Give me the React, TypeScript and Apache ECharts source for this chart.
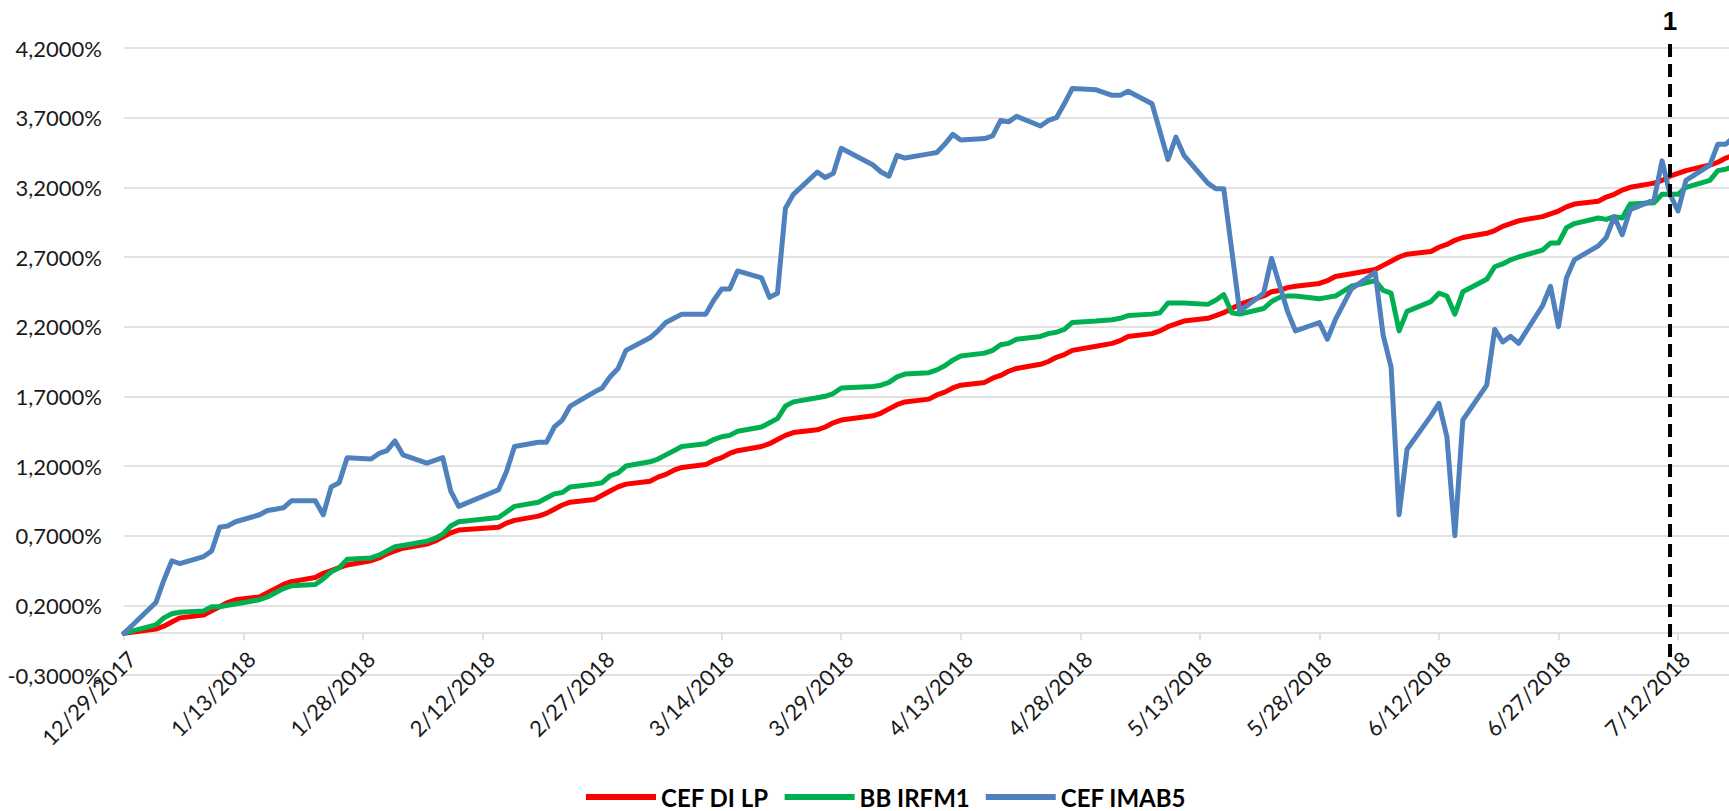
import React, { useEffect, useRef } from 'react';
import * as echarts from 'echarts';

// Business days shown in the chart
const dates = [
  '12/29/2017', '1/2/2018', '1/3/2018', '1/4/2018', '1/5/2018', '1/8/2018', '1/9/2018', '1/10/2018', '1/11/2018', '1/12/2018',
  '1/15/2018', '1/16/2018', '1/17/2018', '1/18/2018', '1/19/2018', '1/22/2018', '1/23/2018', '1/24/2018', '1/25/2018', '1/26/2018',
  '1/29/2018', '1/30/2018', '1/31/2018',
  '2/1/2018', '2/2/2018', '2/5/2018', '2/6/2018', '2/7/2018', '2/8/2018', '2/9/2018', '2/14/2018', '2/15/2018', '2/16/2018',
  '2/19/2018', '2/20/2018', '2/21/2018', '2/22/2018', '2/23/2018', '2/26/2018', '2/27/2018', '2/28/2018',
  '3/1/2018', '3/2/2018', '3/5/2018', '3/6/2018', '3/7/2018', '3/8/2018', '3/9/2018', '3/12/2018', '3/13/2018', '3/14/2018',
  '3/15/2018', '3/16/2018', '3/19/2018', '3/20/2018', '3/21/2018', '3/22/2018', '3/23/2018', '3/26/2018', '3/27/2018', '3/28/2018', '3/29/2018',
  '4/2/2018', '4/3/2018', '4/4/2018', '4/5/2018', '4/6/2018', '4/9/2018', '4/10/2018', '4/11/2018', '4/12/2018', '4/13/2018',
  '4/16/2018', '4/17/2018', '4/18/2018', '4/19/2018', '4/20/2018', '4/23/2018', '4/24/2018', '4/25/2018', '4/26/2018', '4/27/2018', '4/30/2018',
  '5/2/2018', '5/3/2018', '5/4/2018', '5/7/2018', '5/8/2018', '5/9/2018', '5/10/2018', '5/11/2018', '5/14/2018', '5/15/2018',
  '5/16/2018', '5/17/2018', '5/18/2018', '5/21/2018', '5/22/2018', '5/23/2018', '5/24/2018', '5/25/2018', '5/28/2018', '5/29/2018', '5/30/2018',
  '6/1/2018', '6/4/2018', '6/5/2018', '6/6/2018', '6/7/2018', '6/8/2018', '6/11/2018', '6/12/2018', '6/13/2018', '6/14/2018',
  '6/15/2018', '6/18/2018', '6/19/2018', '6/20/2018', '6/21/2018', '6/22/2018', '6/25/2018', '6/26/2018', '6/27/2018', '6/28/2018', '6/29/2018',
  '7/2/2018', '7/3/2018', '7/4/2018', '7/5/2018', '7/6/2018', '7/9/2018', '7/10/2018', '7/11/2018', '7/12/2018', '7/13/2018',
  '7/16/2018', '7/17/2018', '7/18/2018', '7/19/2018',
];

const cefDiLp = [
  0, 0.03, 0.05, 0.08, 0.11, 0.13, 0.16, 0.19, 0.22, 0.24,
  0.26, 0.29, 0.32, 0.35, 0.37, 0.40, 0.43, 0.45, 0.47, 0.49,
  0.52, 0.54, 0.57,
  0.59, 0.61, 0.64, 0.66, 0.69, 0.72, 0.74, 0.76, 0.79, 0.81,
  0.84, 0.86, 0.89, 0.92, 0.94, 0.96, 0.99, 1.02,
  1.05, 1.07, 1.09, 1.12, 1.14, 1.17, 1.19, 1.21, 1.24, 1.26,
  1.29, 1.31, 1.34, 1.36, 1.39, 1.42, 1.44, 1.46, 1.48, 1.51, 1.53,
  1.56, 1.58, 1.61, 1.64, 1.66, 1.68, 1.71, 1.73, 1.76, 1.78,
  1.80, 1.83, 1.85, 1.88, 1.90, 1.93, 1.95, 1.98, 2.00, 2.03, 2.06,
  2.08, 2.10, 2.13, 2.15, 2.17, 2.20, 2.22, 2.24, 2.26, 2.28,
  2.30, 2.33, 2.36, 2.42, 2.45, 2.46, 2.48, 2.49, 2.51, 2.53, 2.56,
  2.58, 2.61, 2.64, 2.67, 2.70, 2.72, 2.74, 2.77, 2.79, 2.82,
  2.84, 2.87, 2.89, 2.92, 2.94, 2.96, 2.99, 3.01, 3.03, 3.06, 3.08,
  3.10, 3.13, 3.15, 3.18, 3.20, 3.23, 3.25, 3.28, 3.30, 3.32,
  3.36, 3.38, 3.41, 3.43,
];

const bbIrfm1 = [
  0, 0.06, 0.11, 0.14, 0.15, 0.16, 0.19, 0.19, 0.20, 0.21,
  0.24, 0.26, 0.29, 0.32, 0.34, 0.35, 0.39, 0.44, 0.47, 0.53,
  0.54, 0.56, 0.59,
  0.62, 0.63, 0.66, 0.68, 0.71, 0.77, 0.80, 0.83, 0.87, 0.91,
  0.94, 0.97, 1.00, 1.01, 1.05, 1.07, 1.08, 1.13,
  1.15, 1.20, 1.23, 1.25, 1.28, 1.31, 1.34, 1.36, 1.39, 1.41,
  1.42, 1.45, 1.48, 1.51, 1.54, 1.63, 1.66, 1.69, 1.70, 1.72, 1.76,
  1.77, 1.78, 1.80, 1.84, 1.86, 1.87, 1.89, 1.92, 1.96, 1.99,
  2.01, 2.03, 2.07, 2.08, 2.11, 2.13, 2.15, 2.16, 2.18, 2.23, 2.24,
  2.25, 2.26, 2.28, 2.29, 2.30, 2.37, 2.37, 2.37, 2.36, 2.39,
  2.43, 2.30, 2.29, 2.33, 2.38, 2.41, 2.42, 2.42, 2.40, 2.41, 2.42,
  2.49, 2.53, 2.46, 2.44, 2.17, 2.31, 2.38, 2.44, 2.42, 2.29,
  2.45, 2.54, 2.63, 2.65, 2.68, 2.70, 2.75, 2.80, 2.80, 2.91, 2.94,
  2.98, 2.97, 2.99, 2.98, 3.08, 3.09, 3.15, 3.15, 3.15, 3.20,
  3.25, 3.32, 3.33, 3.35,
];

const cefImab5 = [
  0, 0.22, 0.38, 0.52, 0.50, 0.55, 0.59, 0.76, 0.77, 0.80,
  0.85, 0.88, 0.89, 0.90, 0.95, 0.95, 0.85, 1.05, 1.08, 1.26,
  1.25, 1.29, 1.31,
  1.38, 1.28, 1.22, 1.24, 1.26, 1.02, 0.91, 1.03, 1.16, 1.34,
  1.37, 1.37, 1.48, 1.53, 1.63, 1.73, 1.76, 1.84,
  1.90, 2.03, 2.12, 2.17, 2.23, 2.26, 2.29, 2.29, 2.39, 2.47,
  2.47, 2.60, 2.55, 2.41, 2.44, 3.05, 3.15, 3.31, 3.27, 3.30, 3.48,
  3.36, 3.31, 3.28, 3.43, 3.41, 3.44, 3.45, 3.51, 3.58, 3.54,
  3.55, 3.57, 3.68, 3.67, 3.71, 3.64, 3.68, 3.70, 3.80, 3.91, 3.90,
  3.86, 3.86, 3.89, 3.80, 3.60, 3.40, 3.56, 3.43, 3.23, 3.19,
  3.19, 2.75, 2.31, 2.44, 2.69, 2.50, 2.31, 2.17, 2.23, 2.11, 2.25,
  2.47, 2.59, 2.14, 1.91, 0.85, 1.32, 1.56, 1.65, 1.41, 0.70,
  1.53, 1.78, 2.18, 2.09, 2.13, 2.08, 2.35, 2.49, 2.20, 2.55, 2.68,
  2.78, 2.84, 2.99, 2.86, 3.04, 3.11, 3.39, 3.15, 3.03, 3.25,
  3.36, 3.51, 3.51, 3.56,
];

const seriesNames = ['CEF DI LP', 'BB IRFM1', 'CEF IMAB5'];
const seriesColors = ['#FF0000', '#00B050', '#4F81BD'];

const xTickLabels = [
  '12/29/2017', '1/13/2018', '1/28/2018', '2/12/2018', '2/27/2018', '3/14/2018', '3/29/2018',
  '4/13/2018', '4/28/2018', '5/13/2018', '5/28/2018', '6/12/2018', '6/27/2018', '7/12/2018',
];
const yTickLabels = [
  '-0,3000%', '0,2000%', '0,7000%', '1,2000%', '1,7000%', '2,2000%', '2,7000%', '3,2000%', '3,7000%', '4,2000%',
];

const markerDate = '7/11/2018';
const markerLabel = '1';
const markerRange = [-0.17, 4.27];

const Y_MIN = -0.3;
const Y_MAX = 4.2;
const GRID_TOP = 48;
const GRID_BOTTOM = 136;
const CHART_H = 811;

const START = Date.UTC(2017, 11, 29);
const dayOffset = (s: string) => {
  const [m, d, y] = s.split('/').map(Number);
  return (Date.UTC(y, m - 1, d) - START) / 86400000;
};

const FONT = 'Lato, "Open Sans", sans-serif';

export default function App() {
  const ref = useRef<HTMLDivElement>(null);
  useEffect(() => {
    if (!ref.current) return;
    const chart = echarts.init(ref.current, null, { renderer: 'svg' });
    const values = [cefDiLp, bbIrfm1, cefImab5];
    const lineSeries = seriesNames.map((name, k) => ({
      name,
      type: 'line',
      data: dates.map((d, i) => [dayOffset(d), values[k][i]]),
      showSymbol: false,
      symbol: 'none',
      lineStyle: { color: seriesColors[k], width: 5, join: 'round', cap: 'round' },
      itemStyle: { color: seriesColors[k] },
      z: 2 + k,
    }));
    const mx = dayOffset(markerDate);
    // place the date axis on the zero line (distance from grid bottom)
    const plotH = CHART_H - GRID_TOP - GRID_BOTTOM;
    const zeroOffset = -(plotH * (0 - Y_MIN)) / (Y_MAX - Y_MIN);
    chart.setOption({
      animation: false,
      backgroundColor: '#ffffff',
      grid: { left: 124, right: 0, top: GRID_TOP, bottom: GRID_BOTTOM, containLabel: false },
      legend: {
        data: seriesNames,
        left: 586,
        top: 784,
        padding: 0,
        icon: 'rect',
        itemWidth: 70,
        itemHeight: 6,
        itemGap: 16,
        textStyle: { fontFamily: FONT, fontWeight: 'bold', fontSize: 24, lineHeight: 26, color: '#000' },
      },
      xAxis: {
        type: 'value',
        min: 0,
        max: 201.4,
        interval: 15,
        offset: zeroOffset,
        axisLine: { onZero: false, lineStyle: { color: '#D9D9D9', width: 1.5 } },
        axisTick: { show: true, length: 7, lineStyle: { color: '#D9D9D9', width: 1.5 } },
        splitLine: { show: false },
        axisLabel: {
          rotate: 45,
          margin: 14,
          align: 'right',
          verticalAlign: 'top',
          fontFamily: FONT,
          fontSize: 22,
          color: '#1a1a1a',
          showMaxLabel: false,
          formatter: (v: number) => (v % 15 === 0 ? xTickLabels[v / 15] ?? '' : ''),
        },
      },
      yAxis: {
        type: 'value',
        min: Y_MIN,
        max: Y_MAX,
        interval: 0.5,
        axisLine: { show: false },
        axisTick: { show: false },
        splitLine: { lineStyle: { color: '#D9D9D9', width: 1.5 } },
        axisLabel: {
          margin: 22,
          fontFamily: FONT,
          fontSize: 22,
          color: '#1a1a1a',
          formatter: (v: number) => yTickLabels[Math.round((v - Y_MIN) / 0.5)] ?? '',
        },
      },
      series: [
        ...lineSeries,
        {
          name: 'marker',
          type: 'line',
          clip: false,
          symbol: 'circle',
          symbolSize: 0.1,
          showSymbol: true,
          itemStyle: { color: 'rgba(0,0,0,0)' },
          lineStyle: { color: '#000', width: 4, type: [13, 7] },
          z: 10,
          data: [
            [mx, markerRange[0]],
            {
              value: [mx, markerRange[1]],
              label: {
                show: true,
                position: 'top',
                distance: 4,
                formatter: markerLabel,
                fontFamily: '"Liberation Sans", Arial, sans-serif',
                fontWeight: 'bold',
                fontSize: 26,
                color: '#000',
              },
            },
          ],
        },
      ],
    });
    return () => chart.dispose();
  }, []);
  return (
    <div
      ref={ref}
      style={{ position: 'fixed', left: 0, top: 0, width: 1729, height: 811, background: '#fff' }}
    />
  );
}
